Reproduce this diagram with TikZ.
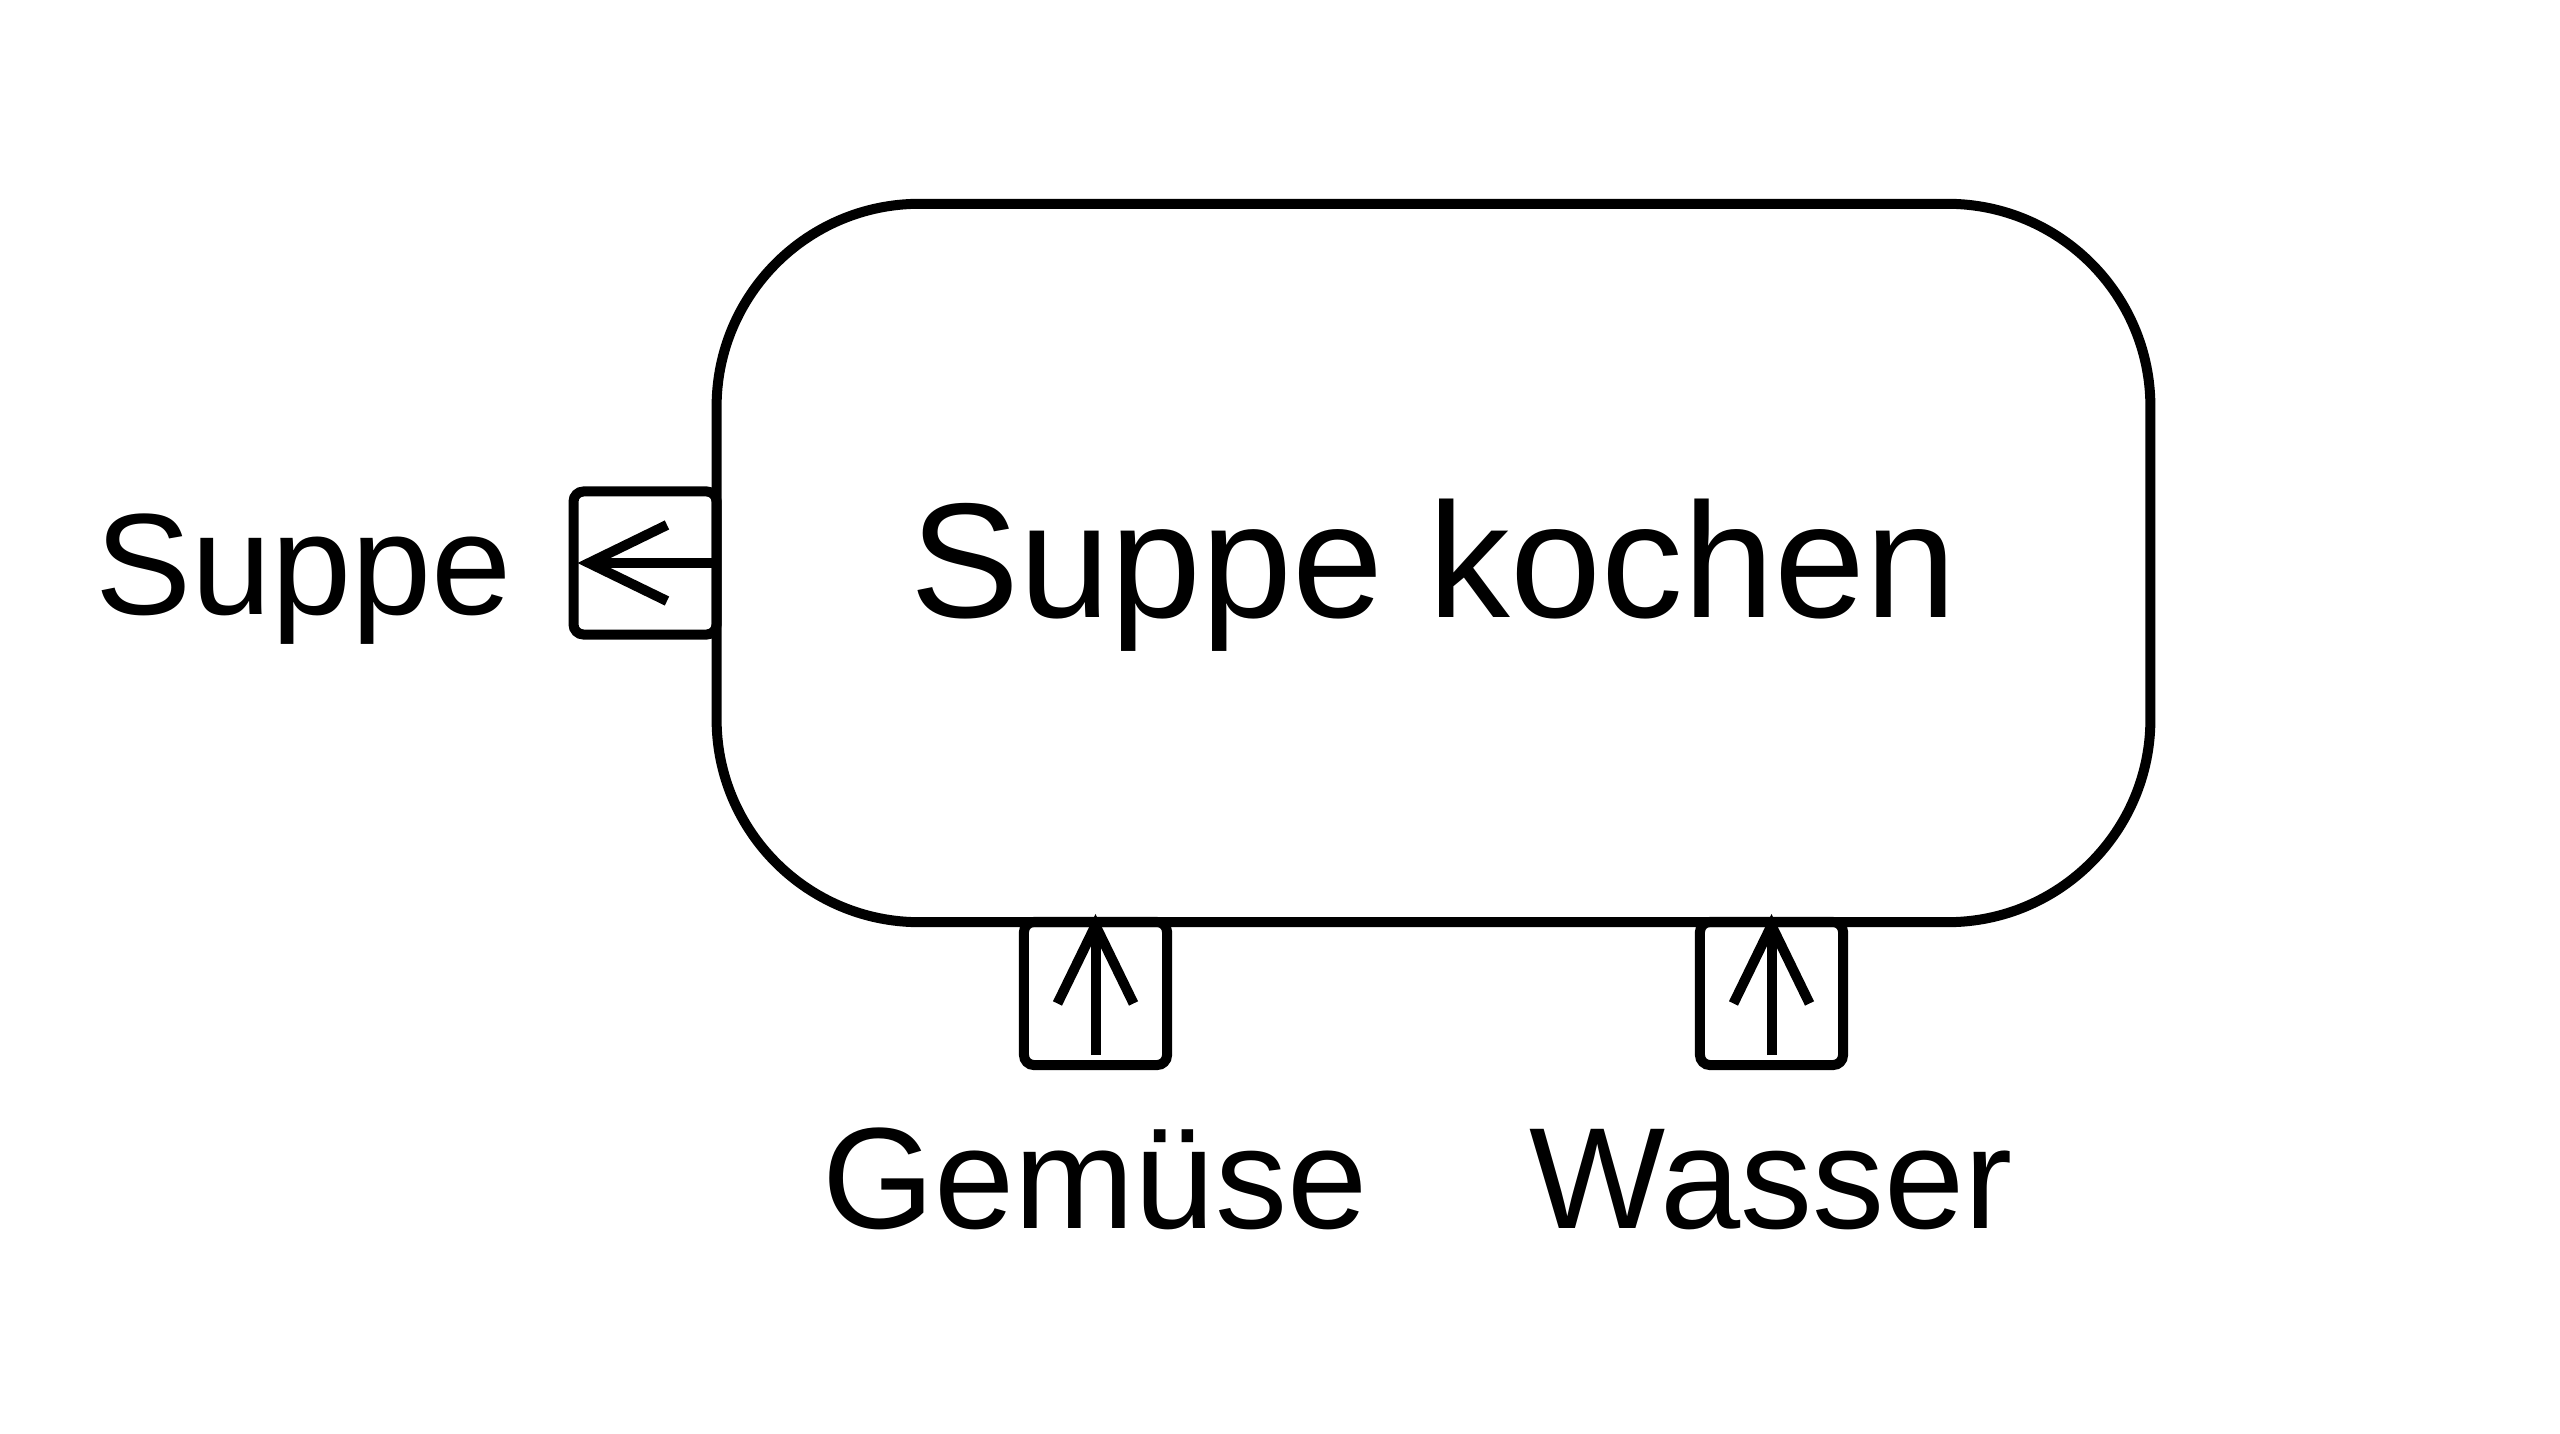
\documentclass[tikz,border=0pt]{standalone}
\usepackage{fontspec}
\setmainfont{Liberation Sans}
\usetikzlibrary{positioning, arrows.meta}

\begin{document}
\begin{tikzpicture}[
        x=0.01cm, y=-0.01cm, % one unit = one pixel of the reference
        every node/.style={inner sep=0pt, outer sep=0pt},
        process/.style={
            draw, line width=0.1cm, rounded corners=2.03cm,
            minimum width=14.33cm, minimum height=7.18cm,
            font=\fontsize{46.5}{56}\selectfont,
            text height=1.08cm, text depth=0pt
        },
        port/.style={
            draw, line width=0.1cm, rounded corners=0.1cm,
            minimum size=1.43cm
        },
        portlabel/.style={font=\fontsize{41}{49}\selectfont},
        flow/.style={line width=0.1cm, -{Straight Barb[length=0.78cm, width=0.76cm, line width=0.1cm]}}
      ]
        \useasboundingbox (0,0) rectangle (2560,1434);

        % activity
        \node[process] (proc) at (1433.5,563) {Suppe kochen};

        % ports
        \node[port, anchor=east] (pout) at (proc.west) {};
        \node[port, anchor=north] (pveg) at (1095.5,922) {};
        \node[port, anchor=north] (pwat) at (1771.5,922) {};

        \draw[flow] (pout.east) -- ([xshift=0.04cm]pout.west);
        \draw[flow] ([yshift=0.1cm]pveg.south) -- ([yshift=0.08cm]pveg.north);
        \draw[flow] ([yshift=0.1cm]pwat.south) -- ([yshift=0.08cm]pwat.north);

        % labels
        \node[portlabel, anchor=base east] (lout) at (512,615) {Suppe};
        \node[portlabel, anchor=base] (lveg) at (1095,1228) {Gemüse};
        \node[portlabel, anchor=base] (lwat) at (1771,1228) {Wasser};
      \end{tikzpicture}
\end{document}
